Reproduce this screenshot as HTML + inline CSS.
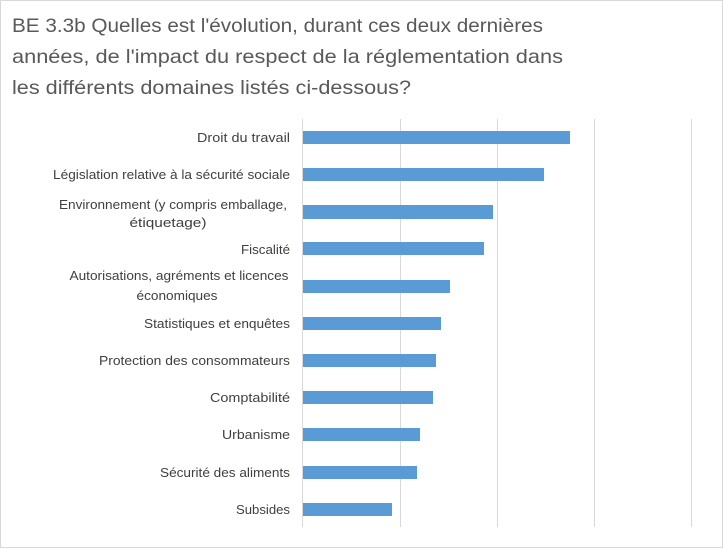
<!DOCTYPE html>
<html><head><meta charset="utf-8"><style>
html,body{margin:0;padding:0;background:#fff;}
svg{display:block;font-family:"Liberation Sans",sans-serif;}
</style></head><body>
<svg width="724" height="549" viewBox="0 0 724 549" xmlns="http://www.w3.org/2000/svg">
<rect x="0.5" y="0.5" width="722" height="547" fill="#fff" stroke="#d9d9d9"/>
<g fill="#595959" font-size="19.5">
<text x="12" y="32" textLength="531" lengthAdjust="spacingAndGlyphs">BE 3.3b  Quelles est l'évolution, durant ces deux dernières</text>
<text x="12" y="63" textLength="551" lengthAdjust="spacingAndGlyphs">années, de l'impact du respect de la réglementation dans</text>
<text x="12" y="94" textLength="399" lengthAdjust="spacingAndGlyphs">les différents domaines listés ci-dessous?</text>
</g>
<g stroke="#d9d9d9" stroke-width="1">
<line x1="302.5" y1="119" x2="302.5" y2="527"/>
<line x1="400.5" y1="119" x2="400.5" y2="527"/>
<line x1="497.5" y1="119" x2="497.5" y2="527"/>
<line x1="594.5" y1="119" x2="594.5" y2="527"/>
<line x1="691.5" y1="119" x2="691.5" y2="527"/>
</g>
<g fill="#5b9bd5">
<rect x="303" y="131" width="267" height="13"/>
<rect x="303" y="168" width="241" height="13"/>
<rect x="303" y="205" width="190" height="14"/>
<rect x="303" y="242" width="181" height="13"/>
<rect x="303" y="280" width="147" height="13"/>
<rect x="303" y="317" width="138" height="13"/>
<rect x="303" y="354" width="133" height="13"/>
<rect x="303" y="391" width="130" height="13"/>
<rect x="303" y="428" width="117" height="13"/>
<rect x="303" y="466" width="114" height="13"/>
<rect x="303" y="503" width="89" height="13"/>
</g>
<g fill="#404040" font-size="12.5">
<g text-anchor="end">
<text x="290" y="142" textLength="93" lengthAdjust="spacingAndGlyphs">Droit du travail</text>
<text x="290" y="179" textLength="237" lengthAdjust="spacingAndGlyphs">Législation relative à la sécurité sociale</text>
<text x="290" y="254" textLength="49" lengthAdjust="spacingAndGlyphs">Fiscalité</text>
<text x="290" y="328" textLength="146" lengthAdjust="spacingAndGlyphs">Statistiques et enquêtes</text>
<text x="290" y="365" textLength="191" lengthAdjust="spacingAndGlyphs">Protection des consommateurs</text>
<text x="290" y="402" textLength="80" lengthAdjust="spacingAndGlyphs">Comptabilité</text>
<text x="290" y="439" textLength="68" lengthAdjust="spacingAndGlyphs">Urbanisme</text>
<text x="290" y="477" textLength="130" lengthAdjust="spacingAndGlyphs">Sécurité des aliments</text>
<text x="290" y="514" textLength="54" lengthAdjust="spacingAndGlyphs">Subsides</text>
</g>
<g text-anchor="middle">
<text x="173" y="209" textLength="228" lengthAdjust="spacingAndGlyphs">Environnement (y compris emballage,</text>
<text x="168" y="227" textLength="77" lengthAdjust="spacingAndGlyphs">étiquetage)</text>
<text x="179" y="280" textLength="219" lengthAdjust="spacingAndGlyphs">Autorisations, agréments et licences</text>
<text x="177" y="300" textLength="81" lengthAdjust="spacingAndGlyphs">économiques</text>
</g>
</g>
</svg>
</body></html>
